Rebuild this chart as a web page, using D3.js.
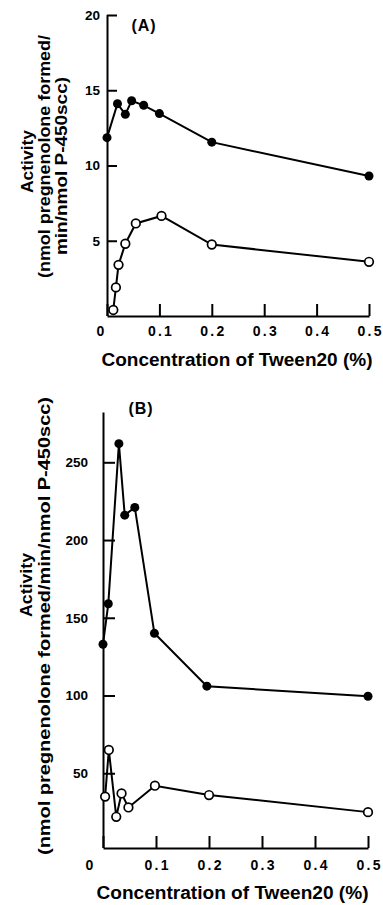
<!DOCTYPE html>
<html><head><meta charset="utf-8">
<script src="https://cdn.jsdelivr.net/npm/d3@7"></script>
<style>
html,body{margin:0;padding:0;background:#fff;}
text{font-family:"Liberation Sans",Arial,Helvetica,sans-serif;fill:#000;}
</style></head>
<body>
<svg id="c" width="383" height="905"></svg>
<script>
// Panel A data
const xTicks = [0, 0.1, 0.2, 0.3, 0.4, 0.5];
const aYTicks = [5, 10, 15, 20];
const aFilledX = [0, 0.02, 0.035, 0.047, 0.07, 0.1, 0.2, 0.5];
const aFilledY = [11.85, 14.1, 13.4, 14.3, 14.0, 13.45, 11.55, 9.3];
const aOpenX = [0.012, 0.017, 0.022, 0.035, 0.055, 0.104, 0.2, 0.5];
const aOpenY = [0.4, 1.9, 3.4, 4.8, 6.15, 6.65, 4.75, 3.6];
// Panel B data
const bYTicks = [50, 100, 150, 200, 250];
const bFilledX = [0, 0.01, 0.03, 0.041, 0.06, 0.097, 0.196, 0.5];
const bFilledY = [133, 159, 262, 216, 221, 140, 106, 99.5];
const bOpenX = [0.004, 0.011, 0.025, 0.035, 0.048, 0.098, 0.2, 0.5];
const bOpenY = [35, 65, 22, 37, 28, 42, 36, 25];
const xTitle = "Concentration of Tween20 (%)";

const svg = d3.select("#c");
const fmtX = d => d === 0 ? "0" : d3.format(".1f")(d);

function panel(o) {
  const g = svg.append("g");
  const x = d3.scaleLinear().domain([0, 0.5]).range([o.x0, o.x1]);
  const y = d3.scaleLinear().domain([0, o.yRef]).range([o.y0, o.yRefPx]);
  // y axis
  const ya = g.append("g").attr("transform", `translate(${o.x0},0)`)
    .call(d3.axisLeft(y).tickValues(o.yTicks).tickSizeInner(-o.yTickLen).tickSizeOuter(0).tickPadding(o.yPad));
  ya.select(".domain").attr("d", `M0.5,${o.xAxisY}V${y(o.yTop)}`).attr("stroke-width", 2);
  ya.selectAll("line").attr("stroke-width", 2);
  ya.selectAll("text").style("font-size", "13.5px").style("font-weight", "bold");
  // x axis
  const xa = g.append("g").attr("transform", `translate(0,${o.xAxisY})`)
    .call(d3.axisBottom(x).tickValues(xTicks).tickFormat(fmtX).tickSizeInner(-o.xTickLen).tickSizeOuter(0).tickPadding(o.xPad));
  xa.selectAll(".domain").attr("stroke-width", 2);
  xa.selectAll("line").attr("stroke-width", 2);
  xa.selectAll("text").style("font-size", "14px").style("font-weight", "bold")
    .attr("textLength", d => d === 0 ? null : 24).attr("lengthAdjust", "spacing");
  xa.selectAll(".tick").filter(d => d === 0).select("text").attr("dx", o.zeroDx);
  // x title
  g.append("text").attr("x", o.titleX).attr("y", o.titleY).attr("text-anchor", "middle")
    .style("font-size", "17.5px").style("font-weight", "bold")
    .attr("textLength", o.titleLen).attr("lengthAdjust", "spacingAndGlyphs").text(xTitle);
  // panel label
  g.append("text").attr("x", o.labX).attr("y", o.labY).attr("text-anchor", "middle")
    .style("font-size", "16px").style("font-weight", "bold").attr("letter-spacing", "1px").text(o.label);
  // y title
  o.yLines.forEach((t, i) => {
    g.append("text").attr("transform", `translate(${o.yLineX[i]},${o.yLineC[i]}) rotate(-90)`)
      .attr("text-anchor", "middle").style("font-size", "16.5px").style("font-weight", "bold")
      .attr("textLength", o.yLineLen[i]).attr("lengthAdjust", "spacingAndGlyphs").text(t);
  });
  const line = d3.line().x(d => x(d[0])).y(d => y(d[1]));
  const filled = o.fx.map((v, i) => [v, o.fy[i]]);
  const open = o.ox.map((v, i) => [v, o.oy[i]]);
  [filled, open].forEach(s => g.append("path").datum(s).attr("d", line)
    .attr("fill", "none").attr("stroke", "#000").attr("stroke-width", 2));
  g.selectAll(".f").data(filled).join("circle").attr("cx", d => x(d[0])).attr("cy", d => y(d[1]))
    .attr("r", 4.5).attr("fill", "#000");
  g.selectAll(".o").data(open).join("circle").attr("cx", d => x(d[0])).attr("cy", d => y(d[1]))
    .attr("r", 4.3).attr("fill", "#fff").attr("stroke", "#000").attr("stroke-width", 1.7);
}

panel({
  x0: 107, x1: 369, y0: 316, yRef: 20, yRefPx: 15, yTop: 20, xAxisY: 316,
  yTicks: aYTicks, yTickLen: 10, yPad: 7, xTickLen: 12, xPad: 10, zeroDx: -7,
  titleX: 237, titleY: 366, titleLen: 271, labX: 144, labY: 31, label: "(A)",
  yLines: ["Activity", "(nmol pregnenolone formed/", "min/nmol P-450scc)"],
  yLineX: [33, 50, 67], yLineC: [161.5, 156.5, 166], yLineLen: [63, 243, 178],
  fx: aFilledX, fy: aFilledY, ox: aOpenX, oy: aOpenY
});
panel({
  x0: 103, x1: 368, y0: 851, yRef: 250, yRefPx: 462.3, yTop: 282, xAxisY: 848,
  yTicks: bYTicks, yTickLen: 12, yPad: 15, xTickLen: 12, xPad: 12, zeroDx: -14,
  titleX: 232.5, titleY: 899, titleLen: 272, labX: 141, labY: 414, label: "(B)",
  yLines: ["Activity", "(nmol pregnenolone formed/min/nmol P-450scc)"],
  yLineX: [32, 50], yLineC: [585, 626], yLineLen: [64, 458],
  fx: bFilledX, fy: bFilledY, ox: bOpenX, oy: bOpenY
});
</script>
</body></html>
